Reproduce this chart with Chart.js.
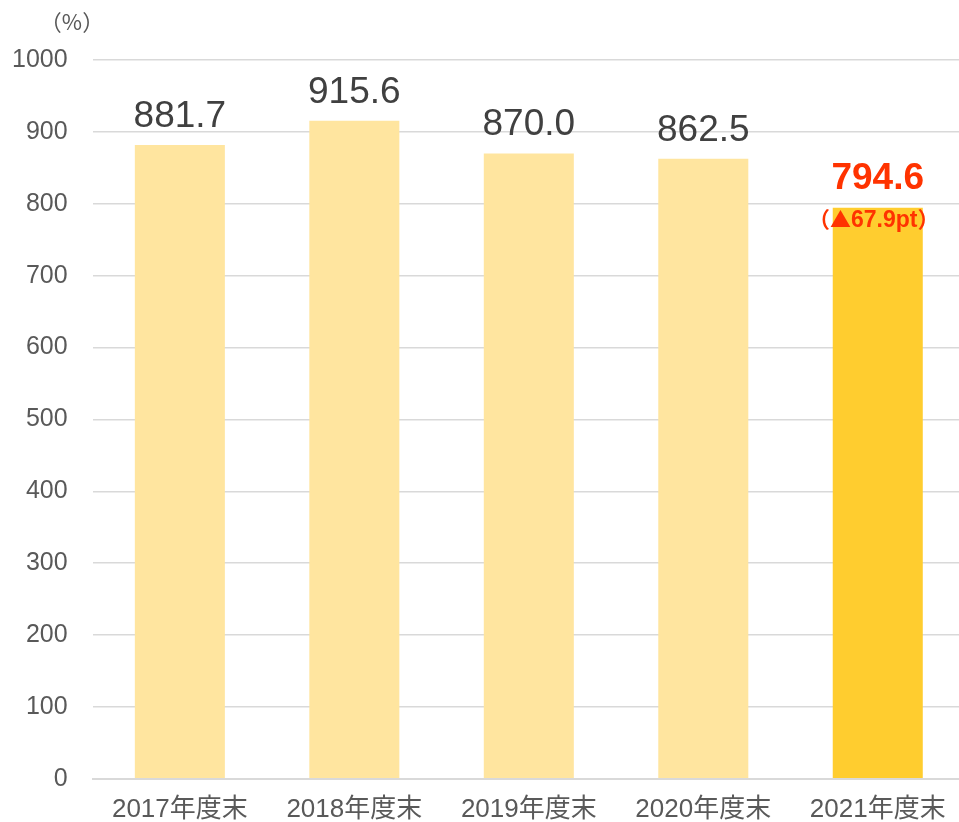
<!DOCTYPE html>
<html>
<head>
<meta charset="utf-8">
<script src="https://cdn.jsdelivr.net/npm/chart.js@4"></script>
<style>
  body { margin: 0; background: #fff; overflow: hidden; }
  #wrap { position: relative; width: 959px; height: 822px; overflow: hidden; }
</style>
</head>
<body>
<div id="wrap"><canvas id="ratioChart" width="965" height="822"></canvas></div>
<script>
// データ
const categories = ['2017年度末', '2018年度末', '2019年度末', '2020年度末', '2021年度末'];
const ratioValues = [881.7, 915.6, 870.0, 862.5, 794.6];
const valueLabels = ['881.7', '915.6', '870.0', '862.5', '794.6'];
const diffParts = ['（', '▲', '67.9pt', '）'];
const yTicks = [0, 100, 200, 300, 400, 500, 600, 700, 800, 900, 1000];

const FONT = '"Liberation Sans", Arial, "Noto Sans CJK JP", sans-serif';
const CJK = '"Noto Sans CJK JP", sans-serif';

// 棒の上に数値を描くプラグイン
const labelPlugin = {
    id: 'valueLabels',
    afterDatasetsDraw(chart) {
        const ctx = chart.ctx;
        const meta = chart.getDatasetMeta(0);
        ctx.save();
        ctx.textBaseline = 'alphabetic';
        meta.data.forEach((bar, i) => {
            const last = i === meta.data.length - 1;
            ctx.textAlign = 'center';
            if (last) {
                ctx.fillStyle = '#ff3300';
                ctx.font = 'bold 37px ' + FONT;
                ctx.fillText(valueLabels[i], bar.x, bar.y - 19);
                // 差分（▲は大きめ）
                const fonts = ['bold 22px ' + CJK, '21px ' + CJK, 'bold 23px ' + FONT, 'bold 22px ' + CJK];
                let total = 0;
                const widths = diffParts.map((s, k) => {
                    ctx.font = fonts[k];
                    const w = ctx.measureText(s).width;
                    total += w;
                    return w;
                });
                let x = bar.x - 4 - total / 2;
                ctx.textAlign = 'left';
                diffParts.forEach((s, k) => {
                    ctx.font = fonts[k];
                    ctx.fillText(s, x, bar.y + 19);
                    x += widths[k];
                });
            } else {
                ctx.fillStyle = '#404040';
                ctx.font = '37px ' + FONT;
                ctx.fillText(valueLabels[i], bar.x, bar.y - 18);
            }
        });
        // 単位
        ctx.textAlign = 'center';
        ctx.fillStyle = '#595959';
        ctx.font = '22px ' + CJK;
        ctx.fillText('（%）', 72, 30);
        ctx.restore();
    }
};

const ctx = document.getElementById('ratioChart').getContext('2d');
const myChart = new Chart(ctx, {
    type: 'bar',
    data: {
        labels: categories,
        datasets: [{
            data: ratioValues,
            backgroundColor: ['#ffe59f', '#ffe59f', '#ffe59f', '#ffe59f', '#ffcd2f'],
            borderWidth: 0,
            categoryPercentage: 1,
            barPercentage: 0.516
        }]
    },
    options: {
        responsive: false,
        animation: false,
        layout: { padding: { top: 60, right: 0, left: -13, bottom: -18 } },
        plugins: {
            legend: { display: false },
            tooltip: { enabled: false }
        },
        scales: {
            x: {
                grid: { display: false, drawTicks: false },
                border: { display: true, color: '#d9d9d9', width: 2 },
                ticks: {
                    color: '#595959',
                    font: { family: FONT, size: 26 },
                    padding: 15,
                    maxRotation: 0
                }
            },
            y: {
                min: 0,
                max: 1000,
                afterBuildTicks(axis) {
                    axis.ticks = yTicks.map(v => ({ value: v }));
                },
                grid: { color: '#d9d9d9', lineWidth: 1.5, drawTicks: false },
                border: { display: false },
                ticks: {
                    color: '#595959',
                    font: { family: FONT, size: 25 },
                    padding: 25,
                    callback: v => String(v)
                }
            }
        }
    },
    plugins: [labelPlugin]
});
</script>
</body>
</html>
